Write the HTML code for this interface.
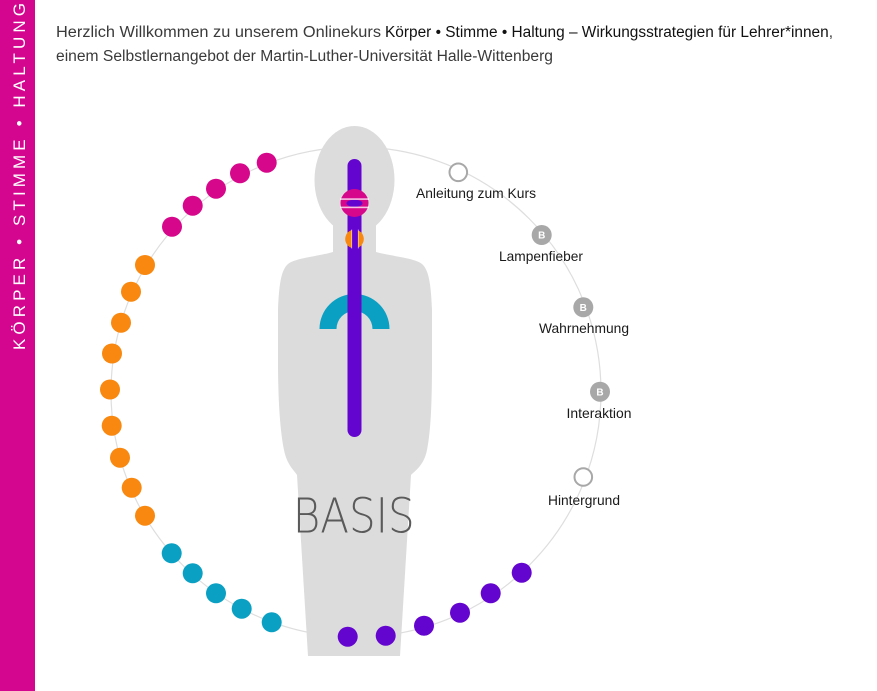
<!DOCTYPE html>
<html>
<head>
<meta charset="utf-8">
<style>
  html, body { margin:0; padding:0; background:#fff; }
  body { width:877px; height:691px; overflow:hidden; }
  svg { display:block; }
  .t { font-family:"Liberation Sans", "DejaVu Sans", sans-serif; }
</style>
</head>
<body>
<svg width="877" height="691" viewBox="0 0 877 691" xmlns="http://www.w3.org/2000/svg">
  <!-- sidebar -->
  <rect x="0" y="0" width="35" height="691" fill="#d4068f"/>
  <text class="t" transform="translate(25,350) rotate(-90)" x="0" y="0" font-size="17" fill="#ffffff" textLength="347" lengthAdjust="spacing">KÖRPER • STIMME • HALTUNG</text>

  <!-- header -->
  <text class="t" x="56" y="37" font-size="15.5" fill="#3a3a3a" textLength="325" lengthAdjust="spacingAndGlyphs">Herzlich Willkommen zu unserem Onlinekurs</text>
  <text class="t" x="385" y="37" font-size="15.5" fill="#111" textLength="448" lengthAdjust="spacingAndGlyphs">Körper • Stimme • Haltung – Wirkungsstrategien für Lehrer*innen<tspan fill="#3a3a3a">,</tspan></text>
  <text class="t" x="56" y="61" font-size="15.5" fill="#3a3a3a" textLength="497" lengthAdjust="spacingAndGlyphs">einem Selbstlernangebot der Martin-Luther-Universität Halle-Wittenberg</text>

  <!-- big circle -->
  <circle cx="356" cy="392" r="245" fill="none" stroke="#dedede" stroke-width="1.2"/>

  <!-- body silhouette -->
  <g fill="#dcdcdc">
    <ellipse cx="354.5" cy="180" rx="40" ry="54"/>
    <path d="M 333 200 L 333 252 C 320 256, 295 258, 288 264 C 281 270, 279 285, 278 310 L 278 360 C 278 400, 280 430, 284 450 C 287 465, 294 470, 297 475 L 308 656 L 400 656 L 411 475 C 416 470, 424 465, 427 450 C 431 430, 432 400, 432 360 L 432 310 C 431 285, 429 270, 422 264 C 415 258, 390 256, 376 252 L 376 200 Z"/>
  </g>

  <!-- teal arch -->
  <path d="M 319.5 329 A 35 35 0 0 1 389.5 329 L 372.5 329 A 18 18 0 0 0 336.5 329 Z" fill="#0aa0c3"/>

  <!-- spine -->
  <line x1="354.5" y1="166" x2="354.5" y2="430" stroke="#6405cf" stroke-width="14" stroke-linecap="round"/>

  <!-- magenta head circle -->
  <circle cx="354.5" cy="203" r="14" fill="#d6078a"/>
  <ellipse cx="354.5" cy="203.3" rx="8" ry="3.6" fill="#6405cf"/>
  <rect x="340" y="198.3" width="29" height="1.6" fill="#ffffff" opacity="0.75"/>
  <rect x="340" y="206.6" width="29" height="1.6" fill="#ffffff" opacity="0.75"/>

  <!-- orange throat circle -->
  <circle cx="354.5" cy="239" r="9.3" fill="#f8880f"/>
  <rect x="352" y="229.5" width="6" height="19" fill="#6405cf"/>
  <rect x="351.3" y="229.5" width="0.8" height="19" fill="#ffffff" opacity="0.6"/>
  <rect x="357.9" y="229.5" width="0.8" height="19" fill="#ffffff" opacity="0.6"/>

  <!-- magenta dots -->
  <g fill="#d6078a">
    <circle cx="266.7" cy="162.7" r="10"/>
    <circle cx="240" cy="173.3" r="10"/>
    <circle cx="216" cy="188.7" r="10"/>
    <circle cx="192.7" cy="205.7" r="10"/>
    <circle cx="172" cy="226.7" r="10"/>
  </g>
  <!-- orange dots -->
  <g fill="#f8880f">
    <circle cx="145" cy="265" r="10"/>
    <circle cx="131" cy="291.7" r="10"/>
    <circle cx="121" cy="322.7" r="10"/>
    <circle cx="112" cy="353.5" r="10"/>
    <circle cx="110" cy="389.5" r="10"/>
    <circle cx="111.7" cy="425.7" r="10"/>
    <circle cx="120" cy="457.7" r="10"/>
    <circle cx="131.7" cy="487.7" r="10"/>
    <circle cx="145" cy="515.7" r="10"/>
  </g>
  <!-- teal dots -->
  <g fill="#0aa0c3">
    <circle cx="171.7" cy="553.3" r="10"/>
    <circle cx="192.7" cy="573.3" r="10"/>
    <circle cx="216" cy="593.3" r="10"/>
    <circle cx="241.7" cy="608.7" r="10"/>
    <circle cx="271.7" cy="622.3" r="10"/>
  </g>
  <!-- purple dots -->
  <g fill="#6405cf">
    <circle cx="347.7" cy="636.7" r="10"/>
    <circle cx="385.7" cy="635.7" r="10"/>
    <circle cx="424" cy="625.7" r="10"/>
    <circle cx="460" cy="612.7" r="10"/>
    <circle cx="490.7" cy="593.3" r="10"/>
    <circle cx="521.7" cy="572.7" r="10"/>
  </g>

  <!-- BASIS -->
  <text x="292.7" y="532.7" font-family="'DejaVu Sans', 'Liberation Sans', sans-serif" font-weight="200" font-size="48" fill="#5a5a5a" textLength="122" lengthAdjust="spacingAndGlyphs">BASIS</text>

  <!-- right nodes -->
  <circle cx="458.3" cy="172.3" r="8.8" fill="#fff" stroke="#a8a8a8" stroke-width="2"/>
  <circle cx="583.3" cy="477" r="8.8" fill="#fff" stroke="#a8a8a8" stroke-width="2"/>
  <g fill="#a8a8a8">
    <circle cx="541.7" cy="235" r="10"/>
    <circle cx="583.3" cy="307.3" r="10"/>
    <circle cx="600" cy="391.7" r="10"/>
  </g>
  <g class="t" font-size="10" font-weight="bold" fill="#fff" text-anchor="middle">
    <text x="541.7" y="238.7">B</text>
    <text x="583.3" y="311">B</text>
    <text x="600" y="395.4">B</text>
  </g>

  <g class="t" font-size="14" fill="#1a1a1a" text-anchor="middle">
    <text x="476" y="198" textLength="120" lengthAdjust="spacingAndGlyphs">Anleitung zum Kurs</text>
    <text x="541" y="261" textLength="84" lengthAdjust="spacingAndGlyphs">Lampenfieber</text>
    <text x="584" y="333" textLength="90" lengthAdjust="spacingAndGlyphs">Wahrnehmung</text>
    <text x="599" y="418" textLength="65" lengthAdjust="spacingAndGlyphs">Interaktion</text>
    <text x="584" y="505" textLength="72" lengthAdjust="spacingAndGlyphs">Hintergrund</text>
  </g>
</svg>
</body>
</html>
